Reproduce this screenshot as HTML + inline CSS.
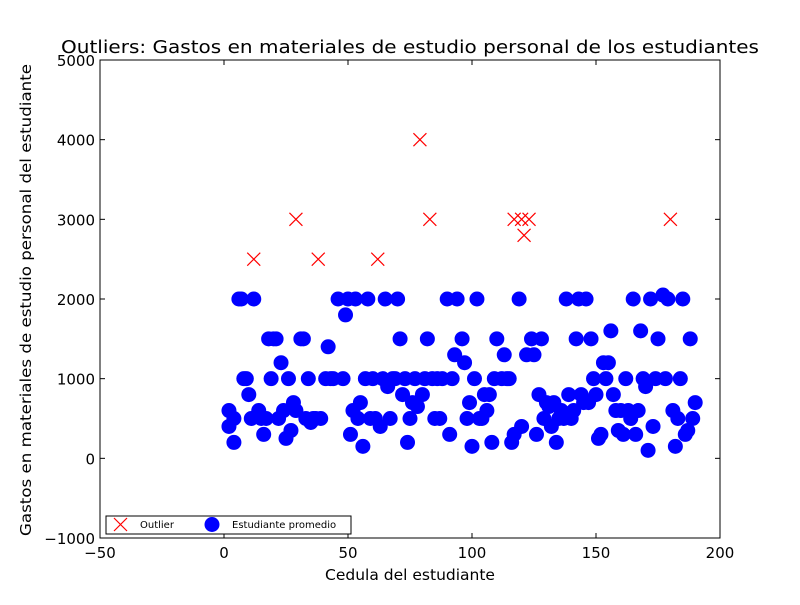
<!DOCTYPE html>
<html><head><meta charset="utf-8"><style>
body{margin:0;background:#fff;}
svg{font-family:"DejaVu Sans","Liberation Sans",sans-serif;}
</style></head><body>
<svg id="chart" width="800" height="600" xmlns="http://www.w3.org/2000/svg"></svg>
<script>
const blueX=[2,2,4,4,6,7,8,9,10,11,12,14,15,16,17,18,19,20,21,22,23,24,25,26,27,28,29,31,32,33,34,35,36,37,39,41,42,43,44,46,48,49,50,51,52,53,54,55,56,57,58,59,60,61,63,64,65,66,67,68,69,70,71,72,73,74,75,76,77,78,80,81,82,84,85,86,87,88,90,91,92,93,94,96,97,98,99,100,101,102,103,104,105,106,107,108,109,110,112,113,114,115,116,117,119,120,122,124,125,126,127,128,129,130,131,132,133,134,135,136,137,138,139,140,141,142,143,144,145,146,147,148,149,150,151,152,153,154,155,156,157,158,159,160,161,162,163,164,165,166,167,168,169,170,171,172,173,174,175,177,178,179,181,182,183,184,185,186,187,188,189,190];
const blueY=[400,600,500,200,2000,2000,1000,1000,800,500,2000,600,500,300,500,1500,1000,1500,1500,500,1200,600,250,1000,350,700,600,1500,1500,500,1000,450,500,500,500,1000,1400,1000,1000,2000,1000,1800,2000,300,600,2000,500,700,150,1000,2000,500,1000,500,400,1000,2000,900,500,1000,1000,2000,1500,800,1000,200,500,700,1000,650,800,1000,1500,1000,500,1000,500,1000,2000,300,1000,1300,2000,1500,1200,500,700,150,1000,2000,500,500,800,600,800,200,1000,1500,1000,1300,1000,1000,200,300,2000,400,1300,1500,1300,300,800,1500,500,700,650,400,700,200,500,600,500,2000,800,500,600,1500,2000,800,700,2000,700,1500,1000,800,250,300,1200,1000,1200,1600,800,600,350,600,300,1000,600,500,2000,300,600,1600,1000,900,100,2000,400,1000,1500,2050,1000,2000,600,150,500,1000,2000,300,350,1500,500,700];
const outX=[12,29,38,62,79,83,117,120,121,123,180];
const outY=[2500,3000,2500,2500,4000,3000,3000,3000,2800,3000,3000];
const xTicks=[-50,0,50,100,150,200];
const yTicks=[-1000,0,1000,2000,3000,4000,5000];

const NS="http://www.w3.org/2000/svg";
const svg=document.getElementById('chart');
const L=100,R=720,T=60,B=538;
const sx=v=>L+(v+50)/250*(R-L);
const sy=v=>B-(v+1000)/6000*(B-T);
function mk(tag,attrs,parent){const e=document.createElementNS(NS,tag);for(const k in attrs)e.setAttribute(k,attrs[k]);(parent||svg).appendChild(e);return e;}
const fmt=t=>t<0?'\u2212'+(-t):String(t);

const pts=mk('g',{});


blueX.forEach((x,i)=>{
  const c=mk('circle',{cx:sx(x),cy:sy(blueY[i]),r:7.5,fill:'#0000ff'},pts);
  
  
});
const outs=mk('g',{stroke:'#ff0000','stroke-width':1.2});


outX.forEach((x,i)=>{
  const cx=sx(x),cy=sy(outY[i]),d=6.5;
  const g=mk('path',{d:`M${cx-d},${cy-d}L${cx+d},${cy+d}M${cx-d},${cy+d}L${cx+d},${cy-d}`,fill:'none'},outs);
  
  
});

const frame=mk('rect',{x:L,y:T,width:R-L,height:B-T,fill:'none',stroke:'#000','stroke-width':1});



xTicks.forEach(t=>{
  const x=sx(t);
  mk('line',{x1:x,y1:B,x2:x,y2:B-5,stroke:'#000'});
  mk('line',{x1:x,y1:T,x2:x,y2:T+5,stroke:'#000'});
  const tx=mk('text',{x:x,y:B+20,'text-anchor':'middle','font-size':15});
  tx.textContent=fmt(t);
  
  
});
yTicks.forEach(t=>{
  const y=sy(t);
  mk('line',{x1:L,y1:y,x2:L+5,y2:y,stroke:'#000'});
  mk('line',{x1:R,y1:y,x2:R-5,y2:y,stroke:'#000'});
  const tx=mk('text',{x:L-5,y:y+6,'text-anchor':'end','font-size':15});
  tx.textContent=fmt(t);
  
  
});

const title=mk('text',{x:410,y:53,'text-anchor':'middle','font-size':17.5,textLength:698,lengthAdjust:'spacingAndGlyphs'});
title.textContent='Outliers: Gastos en materiales de estudio personal de los estudiantes';


const xl=mk('text',{x:410,y:580,'text-anchor':'middle','font-size':15.5});
xl.textContent='Cedula del estudiante';


const yl=mk('text',{x:31,y:300,'text-anchor':'middle','font-size':15.5,textLength:472,lengthAdjust:'spacingAndGlyphs',transform:'rotate(-90 31 300)'});
yl.textContent='Gastos en materiales de estudio personal del estudiante';



const lg=mk('g',{});


mk('rect',{x:106,y:516,width:245,height:18,fill:'#fff',stroke:'#000'},lg);
mk('path',{d:'M114,518L127,531M114,531L127,518',stroke:'#ff0000','stroke-width':1.2},lg);
const t1=mk('text',{x:140,y:528,'font-size':10},lg);t1.textContent='Outlier';


mk('circle',{cx:212,cy:524.5,r:7.5,fill:'#0000ff'},lg);
const t2=mk('text',{x:232,y:528,'font-size':10},lg);t2.textContent='Estudiante promedio';


</script>
</body></html>
